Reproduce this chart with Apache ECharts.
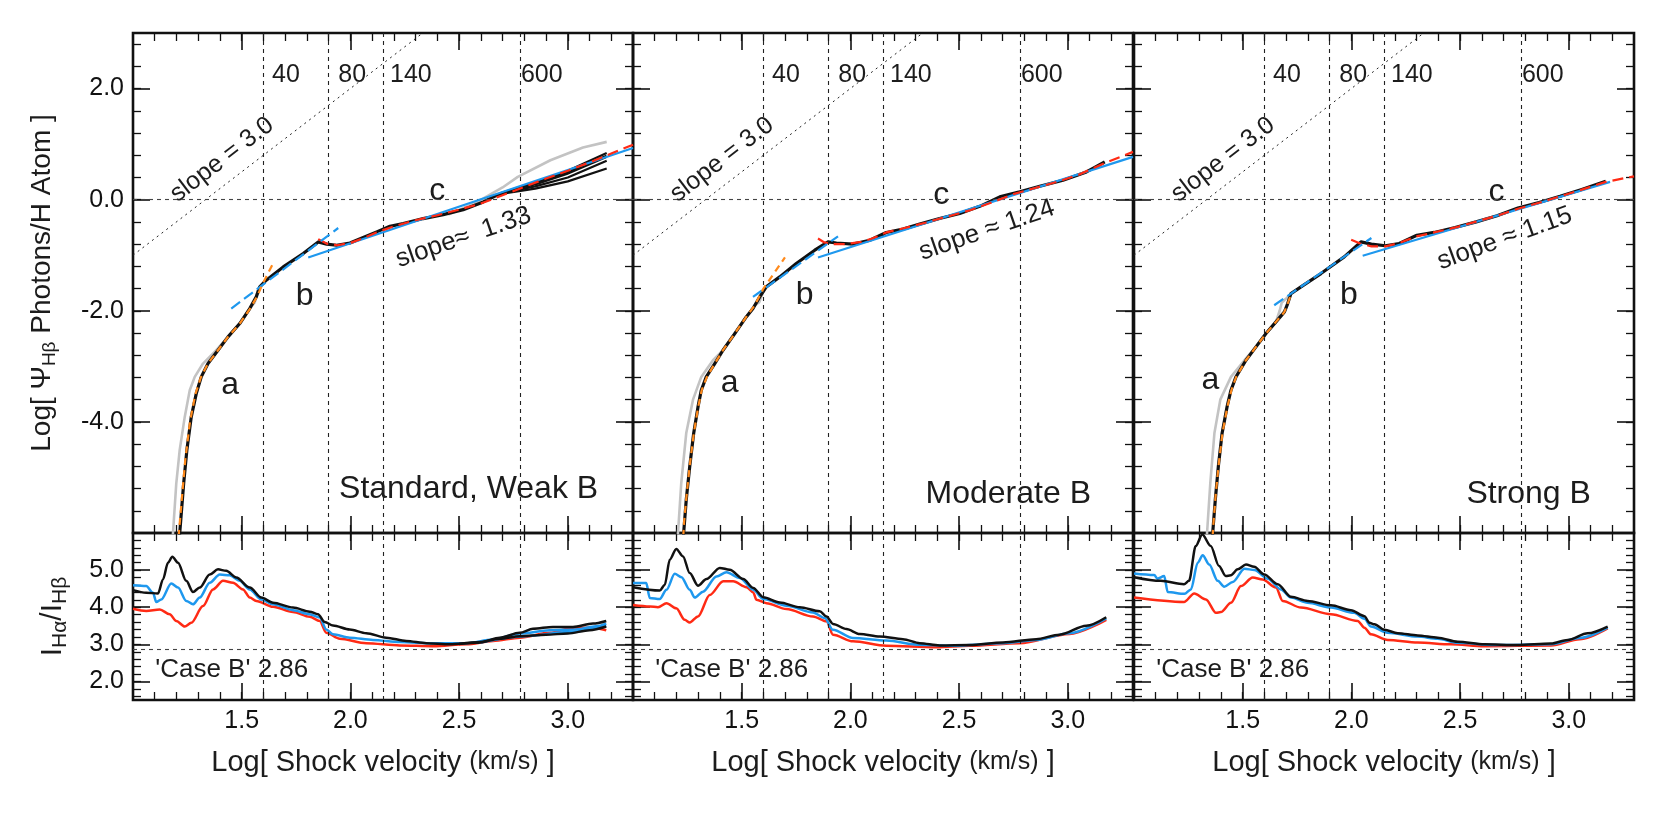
<!DOCTYPE html>
<html>
<head>
<meta charset="utf-8" />
<title>Hβ photon yield vs shock velocity</title>
<script src="https://cdn.jsdelivr.net/npm/echarts@6/dist/echarts.min.js"></script>
<style>
  * { margin: 0; padding: 0; box-sizing: border-box; }
  html, body { background: #fff; }
</style>
</head>
<body>
<div id="main" style="width: 1667px; height: 834px"></div>
<script>
// ---------- values ----------
const velocityMarks = [40, 80, 140, 600]; // km/s, dashed verticals
const caseB = 2.86;
const panelTitles = ["Standard, Weak B", "Moderate B", "Strong B"];
const slopeLabels = ["slope\u2248  1.33", "slope \u2248 1.24", "slope \u2248 1.15"];
const regionLabels = ["a", "b", "c"];
const slope3Line = [[1.0, -1.0], [2.333, 3.0]];

const xMajor = [1.0, 1.5, 2.0, 2.5, 3.0];
const xLabels = [1.5, 2.0, 2.5, 3.0];
const yTopMajor = [-6, -4, -2, 0, 2];
const yTopLabels = [-4, -2, 0, 2];
const yBotMajor = [2, 3, 4, 5];
const yBotLabels = [2, 3, 4, 5];

// top panel 1 (Standard, weak B)
const p1Main = [[1.205,-6.5],[1.215,-6.0],[1.233,-5.11],[1.248,-4.50],[1.268,-3.91],[1.291,-3.49],[1.314,-3.19],[1.345,-2.95],[1.391,-2.71],[1.437,-2.47],[1.491,-2.23],[1.537,-1.96],[1.567,-1.75],[1.583,-1.57],[1.613,-1.45],[1.691,-1.21],[1.783,-0.97],[1.852,-0.76],[1.891,-0.80],[1.937,-0.82],[1.998,-0.78],[2.059,-0.68],[2.121,-0.58],[2.182,-0.48],[2.243,-0.43],[2.335,-0.34],[2.427,-0.27],[2.519,-0.18],[2.611,-0.04],[2.673,0.08],[2.765,0.20],[2.857,0.29],[2.995,0.47],[3.179,0.78]];
const p1Black2 = [[2.673,0.08],[2.70,0.12],[2.85,0.24],[3.0,0.40],[3.179,0.70]];
const p1Black3 = [[2.673,0.08],[2.70,0.11],[2.85,0.20],[3.0,0.33],[3.179,0.56]];
const p1Black4 = [[2.673,0.08],[2.70,0.13],[2.85,0.30],[3.0,0.52],[3.179,0.84]];
const p1GrayLow = [[1.175,-6.5],[1.184,-6.0],[1.199,-5.11],[1.215,-4.50],[1.238,-3.91],[1.261,-3.43],[1.284,-3.19],[1.322,-2.95],[1.383,-2.71],[1.437,-2.47],[1.491,-2.23],[1.537,-1.96],[1.560,-1.85],[1.575,-1.62],[1.600,-1.50]];
const p1GrayHigh = [[2.45,-0.27],[2.55,-0.10],[2.61,0.02],[2.70,0.22],[2.77,0.41],[2.92,0.71],[3.07,0.94],[3.179,1.04]];
const p1Orange = [[1.200,-6.5],[1.222,-5.5],[1.240,-4.7],[1.262,-4.0],[1.287,-3.5],[1.312,-3.2],[1.345,-2.95],[1.391,-2.71],[1.437,-2.47],[1.491,-2.23],[1.537,-1.97],[1.570,-1.75],[1.598,-1.50],[1.644,-1.15]];
const p1BlueB = [[1.452,-1.96],[1.944,-0.51]];
const p1BlueC = [[1.806,-1.04],[3.30,0.93]];
const p1Red = [[1.852,-0.71],[1.89,-0.79],[1.94,-0.82],[2.0,-0.78],[2.06,-0.69],[2.12,-0.59],[2.2,-0.48],[2.3,-0.37],[2.4,-0.28],[2.5,-0.18],[2.6,-0.07],[2.7,0.08],[2.8,0.23],[2.9,0.38],[3.0,0.52],[3.1,0.67],[3.2,0.83],[3.3,0.99]];

// top panel 2 (Moderate B)
const p2Main = [[1.228,-6.5],[1.233,-6.0],[1.245,-5.40],[1.261,-4.80],[1.279,-4.21],[1.299,-3.73],[1.314,-3.43],[1.337,-3.19],[1.376,-2.95],[1.414,-2.71],[1.468,-2.41],[1.521,-2.11],[1.552,-1.96],[1.583,-1.75],[1.613,-1.57],[1.675,-1.39],[1.751,-1.15],[1.836,-0.91],[1.897,-0.76],[1.936,-0.78],[2.012,-0.80],[2.089,-0.73],[2.165,-0.59],[2.242,-0.53],[2.319,-0.44],[2.41,-0.34],[2.503,-0.25],[2.595,-0.12],[2.687,0.05],[2.779,0.14],[2.871,0.24],[2.978,0.35],[3.086,0.50],[3.17,0.68]];
const p2Gray = [[1.200,-6.5],[1.207,-6.0],[1.222,-5.1],[1.245,-4.2],[1.276,-3.6],[1.314,-3.19],[1.368,-2.89],[1.414,-2.71],[1.468,-2.41],[1.521,-2.11],[1.560,-1.90],[1.580,-1.85],[1.600,-1.65]];
const p2Orange = [[1.225,-6.5],[1.235,-5.8],[1.247,-5.3],[1.262,-4.75],[1.280,-4.2],[1.300,-3.73],[1.316,-3.43],[1.340,-3.19],[1.376,-2.95],[1.414,-2.71],[1.468,-2.41],[1.521,-2.11],[1.560,-1.90],[1.600,-1.60],[1.699,-1.04]];
const p2BlueB = [[1.552,-1.75],[1.943,-0.66]];
const p2BlueC = [[1.851,-1.04],[3.30,0.77]];
const p2Red = [[1.851,-0.70],[1.88,-0.77],[1.92,-0.80],[1.98,-0.80],[2.05,-0.76],[2.1,-0.70],[2.165,-0.59],[2.25,-0.51],[2.35,-0.41],[2.45,-0.30],[2.55,-0.19],[2.65,-0.05],[2.75,0.10],[2.85,0.21],[2.95,0.32],[3.05,0.45],[3.17,0.66],[3.30,0.86]];

// top panel 3 (Strong B)
const p3Main = [[1.358,-6.5],[1.362,-6.0],[1.374,-5.40],[1.388,-4.80],[1.405,-4.21],[1.428,-3.73],[1.446,-3.43],[1.469,-3.19],[1.515,-2.89],[1.561,-2.65],[1.607,-2.41],[1.653,-2.20],[1.692,-2.02],[1.707,-1.87],[1.722,-1.69],[1.768,-1.57],[1.86,-1.33],[1.967,-1.03],[2.044,-0.76],[2.092,-0.80],[2.156,-0.83],[2.22,-0.79],[2.301,-0.64],[2.381,-0.59],[2.477,-0.50],[2.574,-0.40],[2.67,-0.29],[2.766,-0.15],[2.863,-0.05],[2.96,0.06],[3.056,0.18],[3.17,0.33]];
const p3Gray = [[1.332,-6.5],[1.336,-6.0],[1.351,-5.1],[1.370,-4.2],[1.397,-3.6],[1.446,-3.19],[1.508,-2.89],[1.561,-2.65],[1.607,-2.41],[1.653,-2.20],[1.670,-2.00],[1.680,-1.85],[1.700,-1.78],[1.722,-1.69]];
const p3Orange = [[1.356,-6.5],[1.364,-5.9],[1.376,-5.3],[1.390,-4.75],[1.407,-4.2],[1.430,-3.72],[1.448,-3.43],[1.470,-3.19],[1.515,-2.89],[1.561,-2.65],[1.607,-2.41],[1.653,-2.20],[1.692,-2.02],[1.707,-1.87],[1.725,-1.68]];
const p3BlueB = [[1.645,-1.90],[2.092,-0.69]];
const p3BlueC = [[2.052,-1.01],[3.19,0.32]];
const p3Red = [[1.999,-0.72],[2.04,-0.79],[2.092,-0.84],[2.156,-0.84],[2.22,-0.78],[2.30,-0.66],[2.38,-0.59],[2.48,-0.50],[2.57,-0.40],[2.67,-0.29],[2.77,-0.16],[2.86,-0.06],[2.96,0.06],[3.06,0.18],[3.17,0.32],[3.30,0.42]];

// bottom panels: Halpha/Hbeta ratio
const b1Black = [[1.0,4.46],[1.061,4.39],[1.115,4.37],[1.138,4.75],[1.161,5.20],[1.181,5.36],[1.207,5.20],[1.245,4.71],[1.276,4.41],[1.307,4.53],[1.353,4.88],[1.391,5.02],[1.429,4.98],[1.475,4.80],[1.537,4.53],[1.59,4.26],[1.644,4.12],[1.736,3.99],[1.813,3.88],[1.851,3.81],[1.882,3.60],[1.92,3.51],[1.997,3.40],[2.073,3.30],[2.165,3.18],[2.257,3.09],[2.349,3.03],[2.457,3.00],[2.579,3.04],[2.687,3.15],[2.779,3.22],[2.90,3.26],[3.0,3.29],[3.1,3.38],[3.177,3.48]];
const b1Black2 = [[2.5,3.01],[2.6,3.06],[2.687,3.18],[2.779,3.31],[2.84,3.42],[2.932,3.47],[3.024,3.47],[3.116,3.56],[3.177,3.63]];
const b1Blue = [[1.0,4.59],[1.061,4.57],[1.092,4.39],[1.107,4.14],[1.13,4.21],[1.176,4.64],[1.207,4.53],[1.245,4.17],[1.276,4.08],[1.307,4.26],[1.353,4.66],[1.399,4.88],[1.445,4.86],[1.491,4.71],[1.537,4.48],[1.59,4.21],[1.644,4.08],[1.736,3.92],[1.813,3.81],[1.859,3.72],[1.889,3.40],[1.92,3.27],[1.997,3.18],[2.104,3.12],[2.227,3.06],[2.38,3.03],[2.533,3.03],[2.656,3.13],[2.779,3.29],[2.917,3.38],[3.039,3.40],[3.131,3.49],[3.177,3.56]];
const b1Blue2 = [[2.6,3.05],[2.8,3.22],[3.0,3.33],[3.177,3.50]];
const b1Red = [[1.0,3.96],[1.061,3.90],[1.123,3.94],[1.169,3.81],[1.199,3.63],[1.238,3.48],[1.268,3.58],[1.322,4.03],[1.368,4.48],[1.414,4.71],[1.46,4.66],[1.506,4.48],[1.537,4.26],[1.567,4.17],[1.644,4.01],[1.736,3.87],[1.813,3.74],[1.859,3.63],[1.889,3.31],[1.951,3.15],[2.073,3.03],[2.227,2.97],[2.38,2.95],[2.533,3.00],[2.656,3.09],[2.779,3.18],[2.917,3.31],[3.024,3.45],[3.116,3.45],[3.177,3.38]];

const b2Black = [[1.0,4.54],[1.123,4.45],[1.146,4.60],[1.169,5.28],[1.199,5.57],[1.23,5.37],[1.261,4.92],[1.299,4.58],[1.338,4.76],[1.399,5.06],[1.445,5.01],[1.507,4.76],[1.553,4.52],[1.599,4.27],[1.675,4.13],[1.767,4.00],[1.859,3.89],[1.89,3.75],[1.92,3.55],[1.982,3.41],[2.043,3.28],[2.135,3.21],[2.242,3.14],[2.319,3.03],[2.41,2.97],[2.548,2.98],[2.702,3.05],[2.855,3.14],[2.962,3.26],[3.085,3.50],[3.177,3.73]];
const b2Blue = [[1.0,4.65],[1.061,4.65],[1.077,4.25],[1.123,4.22],[1.154,4.47],[1.192,4.90],[1.223,4.81],[1.261,4.47],[1.284,4.26],[1.322,4.42],[1.384,4.83],[1.43,4.94],[1.491,4.79],[1.553,4.47],[1.599,4.22],[1.706,4.04],[1.828,3.86],[1.882,3.71],[1.92,3.39],[2.012,3.17],[2.165,3.10],[2.319,2.99],[2.472,2.96],[2.702,3.03],[2.855,3.12],[3.008,3.30],[3.177,3.70]];
const b2Red = [[1.0,4.06],[1.077,4.02],[1.115,4.00],[1.154,4.11],[1.199,3.97],[1.238,3.66],[1.261,3.59],[1.299,3.75],[1.353,4.33],[1.415,4.70],[1.461,4.70],[1.522,4.54],[1.553,4.40],[1.568,4.20],[1.614,4.11],[1.706,3.95],[1.828,3.75],[1.89,3.62],[1.92,3.26],[2.012,3.08],[2.165,2.96],[2.395,2.92],[2.548,2.96],[2.778,3.03],[3.008,3.28],[3.177,3.66]];

const b3Black = [[1.0,4.81],[1.123,4.71],[1.23,4.62],[1.253,4.71],[1.284,5.65],[1.314,5.96],[1.353,5.65],[1.391,5.11],[1.422,4.84],[1.446,4.86],[1.477,5.02],[1.515,5.15],[1.553,5.09],[1.599,4.88],[1.661,4.62],[1.722,4.28],[1.799,4.17],[1.906,4.05],[1.998,3.92],[2.06,3.76],[2.083,3.58],[2.106,3.54],[2.152,3.39],[2.213,3.30],[2.305,3.24],[2.397,3.18],[2.489,3.07],[2.612,3.00],[2.765,2.98],[2.918,3.02],[2.995,3.12],[3.087,3.30],[3.179,3.48]];
const b3Blue = [[1.0,4.91],[1.093,4.87],[1.108,4.77],[1.139,4.84],[1.155,4.41],[1.232,4.36],[1.262,4.48],[1.293,5.20],[1.316,5.40],[1.346,5.15],[1.385,4.71],[1.415,4.55],[1.454,4.68],[1.508,5.04],[1.554,5.00],[1.615,4.77],[1.676,4.48],[1.722,4.26],[1.799,4.12],[1.906,3.99],[2.013,3.85],[2.06,3.69],[2.09,3.48],[2.167,3.31],[2.305,3.21],[2.397,3.15],[2.489,3.04],[2.657,2.98],[2.918,3.00],[3.05,3.17],[3.179,3.45]];
const b3Red = [[1.0,4.26],[1.23,4.14],[1.277,4.37],[1.331,4.21],[1.377,3.85],[1.40,3.87],[1.446,4.12],[1.492,4.57],[1.546,4.80],[1.592,4.75],[1.653,4.53],[1.684,4.17],[1.768,3.99],[1.906,3.81],[2.029,3.63],[2.06,3.45],[2.09,3.27],[2.167,3.12],[2.305,3.05],[2.458,3.00],[2.612,2.95],[2.918,2.97],[3.05,3.14],[3.179,3.43]];

// ---------- layout ----------
const fontFamily = '"Liberation Sans", Arial, Helvetica, sans-serif';
const ink = "#111";
const textInk = "#1c1c1c";
const BLUE = "#1e98ee", RED = "#ff2a14", ORANGE = "#ff8a1c", GRAY = "#c3c3c3";
const panelLeft = [133, 633, 1134];
const panelW = 500;
const topY = 33, topH = 500, botY = 533, botH = 167;

function ticksFrom(a, b, step) {
  const out = [];
  for (let v = a; v <= b + 1e-9; v += step) out.push(+v.toFixed(3));
  return out;
}
const xMinor = ticksFrom(1.1, 3.2, 0.1);
const yTopMinor = ticksFrom(-5.6, 2.8, 0.4);
const yBotMinor = ticksFrom(1.6, 5.8, 0.2);

var myChart = echarts.init(document.getElementById("main"));

const grids = [];
panelLeft.forEach((l) => grids.push({ left: l, top: topY, width: panelW, height: topH }));
panelLeft.forEach((l) => grids.push({ left: l, top: botY, width: panelW, height: botH }));
grids.forEach((g) => Object.assign(g, { show: true, borderColor: "#111", borderWidth: 2.6, backgroundColor: "transparent" }));

// per grid and direction: [main, minor, opposite main, opposite minor]
function axisSet(kind, g, min, max, major, minor, labelVals, nameCfg) {
  const sides = kind === "x" ? ["bottom", "top"] : ["left", "right"];
  const base = { gridIndex: g, type: "value", min: min, max: max, splitLine: { show: false }, axisLine: { show: false, onZero: false } };
  const out = [];
  sides.forEach((pos, si) => {
    const main = Object.assign({}, base, {
      position: pos,
      axisTick: { inside: true, length: 17, customValues: major, lineStyle: { color: ink, width: 1.6 } },
      axisLabel: (si === 0 && labelVals)
        ? { show: true, customValues: labelVals, formatter: (v) => Number(v).toFixed(1), fontSize: 25, color: ink, fontFamily: fontFamily, margin: 9 }
        : { show: false },
    });
    if (si === 0 && nameCfg) Object.assign(main, nameCfg);
    out.push(main);
    out.push(Object.assign({}, base, {
      position: pos,
      axisTick: { inside: true, length: 8, customValues: minor, lineStyle: { color: ink, width: 1.3 } },
      axisLabel: { show: false },
    }));
  });
  return out;
}

const xName = {
  name: "{a|Log[ Shock velocity }{b|(km/s)}{a| ]}",
  nameLocation: "middle",
  nameGap: 48,
  nameTextStyle: { color: textInk, fontFamily: fontFamily, rich: {
    a: { fontSize: 29, fontFamily: fontFamily, color: textInk },
    b: { fontSize: 25, fontFamily: fontFamily, color: textInk },
  } },
};
const yTopName = {
  name: "{a|Log[ \u03A8}{s|H\u03B2}{a| Photons/H Atom ]}",
  nameLocation: "middle",
  nameRotate: 90,
  nameGap: 74,
  nameTextStyle: { color: textInk, fontFamily: fontFamily, rich: {
    a: { fontSize: 28, lineHeight: 34, fontFamily: fontFamily, color: textInk },
    s: { fontSize: 19, lineHeight: 19, verticalAlign: "bottom", fontFamily: fontFamily, color: textInk },
  } },
};
const yBotName = {
  name: "{a|I}{s|H\u03B1}{a|/I}{s|H\u03B2}",
  nameLocation: "middle",
  nameRotate: 90,
  nameGap: 62,
  nameTextStyle: { color: textInk, fontFamily: fontFamily, rich: {
    a: { fontSize: 30, lineHeight: 36, fontFamily: fontFamily, color: textInk },
    s: { fontSize: 21, lineHeight: 21, verticalAlign: "bottom", fontFamily: fontFamily, color: textInk },
  } },
};

let xAxes = [], yAxes = [];
for (let g = 0; g < 6; g++) {
  const isTop = g < 3;
  const first = g % 3 === 0;
  xAxes = xAxes.concat(axisSet("x", g, 1.0, 3.3, xMajor, xMinor, isTop ? null : xLabels, isTop ? null : xName));
  yAxes = yAxes.concat(isTop
    ? axisSet("y", g, -6, 3, yTopMajor, yTopMinor, first ? yTopLabels : null, first ? yTopName : null)
    : axisSet("y", g, 1.5, 6, yBotMajor, yBotMinor, first ? yBotLabels : null, first ? yBotName : null));
}

const series = [];
function addLine(g, data, color, width, type, z, smooth) {
  series.push({
    type: "line", xAxisIndex: 4 * g, yAxisIndex: 4 * g, data: data,
    symbol: "none", showSymbol: false, silent: true, z: z,
    smooth: smooth ? 0.3 : false, smoothMonotone: "x",
    lineStyle: { color: color, width: width, type: type, cap: "butt", join: "round" },
  });
}

const topPanels = [
  { main: p1Main, extra: [p1Black2, p1Black3, p1Black4], gray: [p1GrayLow, p1GrayHigh], orange: p1Orange, blueB: p1BlueB, blueC: p1BlueC, red: p1Red },
  { main: p2Main, extra: [], gray: [p2Gray], orange: p2Orange, blueB: p2BlueB, blueC: p2BlueC, red: p2Red },
  { main: p3Main, extra: [], gray: [p3Gray], orange: p3Orange, blueB: p3BlueB, blueC: p3BlueC, red: p3Red },
];
const botPanels = [
  { black: [b1Black, b1Black2], blue: [b1Blue, b1Blue2], red: [b1Red] },
  { black: [b2Black], blue: [b2Blue], red: [b2Red] },
  { black: [b3Black], blue: [b3Blue], red: [b3Red] },
];

// annotation positions (data coords) for each top panel
const notePos = [
  { a: [1.447, -3.34], b: [1.79, -1.74], c: [2.40, 0.16], slope: [2.52, -0.68], rot: 19, title: [3.142, -5.21] },
  { a: [1.445, -3.31], b: [1.79, -1.72], c: [2.418, 0.08], slope: [2.628, -0.55], rot: 19, title: [3.109, -5.30] },
  { a: [1.351, -3.25], b: [1.988, -1.72], c: [2.667, 0.14], slope: [2.705, -0.70], rot: 20, title: [3.104, -5.30] },
];
const markLeft = [1.637, 1.942, 2.18, 2.782];

const vLines = velocityMarks.map((v) => ({ xAxis: Math.log10(v) }));
const dashV = { color: "#222", width: 1.1, type: [4, 4] };
const dashH = { color: "#444", width: 1.1, type: [4, 4] };

function addNotes(g, items, hLine) {
  series.push({
    type: "scatter", xAxisIndex: 4 * g, yAxisIndex: 4 * g, symbol: "circle", symbolSize: 1,
    itemStyle: { color: "rgba(0,0,0,0)", opacity: 1 }, silent: true, z: 1,
    label: { show: true, formatter: "{b}", color: textInk, opacity: 1, fontFamily: fontFamily, position: "inside" },
    data: items,
    markLine: {
      silent: true, symbol: ["none", "none"], label: { show: false },
      data: vLines.map((d) => Object.assign({ lineStyle: dashV }, d)).concat([{ yAxis: hLine, lineStyle: dashH }]),
    },
  });
}

topPanels.forEach((p, i) => {
  p.gray.forEach((d) => addLine(i, d, GRAY, 2.6, "solid", 2));
  p.extra.forEach((d) => addLine(i, d, "#111", 2.2, "solid", 3));
  addLine(i, p.main, "#111", 3.2, "solid", 4);
  addLine(i, p.blueC, BLUE, 2.2, "solid", 5);
  addLine(i, p.red, RED, 2.2, [11, 6], 6);
  addLine(i, p.blueB, BLUE, 2.2, [11, 5], 6);
  addLine(i, p.orange, ORANGE, 2.2, [7, 5], 6);
  addLine(i, slope3Line, "#222", 1, [2, 4], 2);
  const n = notePos[i];
  const items = [
    { name: regionLabels[0], value: n.a, label: { fontSize: 32 } },
    { name: regionLabels[1], value: n.b, label: { fontSize: 32 } },
    { name: regionLabels[2], value: n.c, label: { fontSize: 32 } },
    { name: slopeLabels[i], value: n.slope, label: { fontSize: 26, rotate: n.rot } },
    { name: "slope = 3.0", value: [1.41, 0.72], label: { fontSize: 25, rotate: 37.5 } },
    { name: panelTitles[i], value: n.title, label: { fontSize: 32, position: "left", distance: 0 } },
  ].concat(velocityMarks.map((v, k) => ({
    name: String(v), value: [markLeft[k], 2.25], label: { fontSize: 25, position: "right", distance: 0 },
  })));
  addNotes(i, items, 0);
});

botPanels.forEach((p, i) => {
  const g = i + 3;
  p.red.forEach((d) => addLine(g, d, RED, 2.5, "solid", 3, true));
  p.blue.forEach((d) => addLine(g, d, BLUE, 2.5, "solid", 4, true));
  p.black.forEach((d) => addLine(g, d, "#111", 2.5, "solid", 5, true));
  addNotes(g, [{ name: "'Case B' " + caseB.toFixed(2), value: [1.10, 2.32], label: { fontSize: 26, position: "right", distance: 0 } }], caseB);
});

var option = {
  animation: false,
  backgroundColor: "#fff",
  textStyle: { fontFamily: fontFamily },
  grid: grids,
  xAxis: xAxes,
  yAxis: yAxes,
  series: series,
};
myChart.setOption(option);

window.addEventListener("resize", function () {
  myChart.resize();
});
</script>
</body>
</html>
